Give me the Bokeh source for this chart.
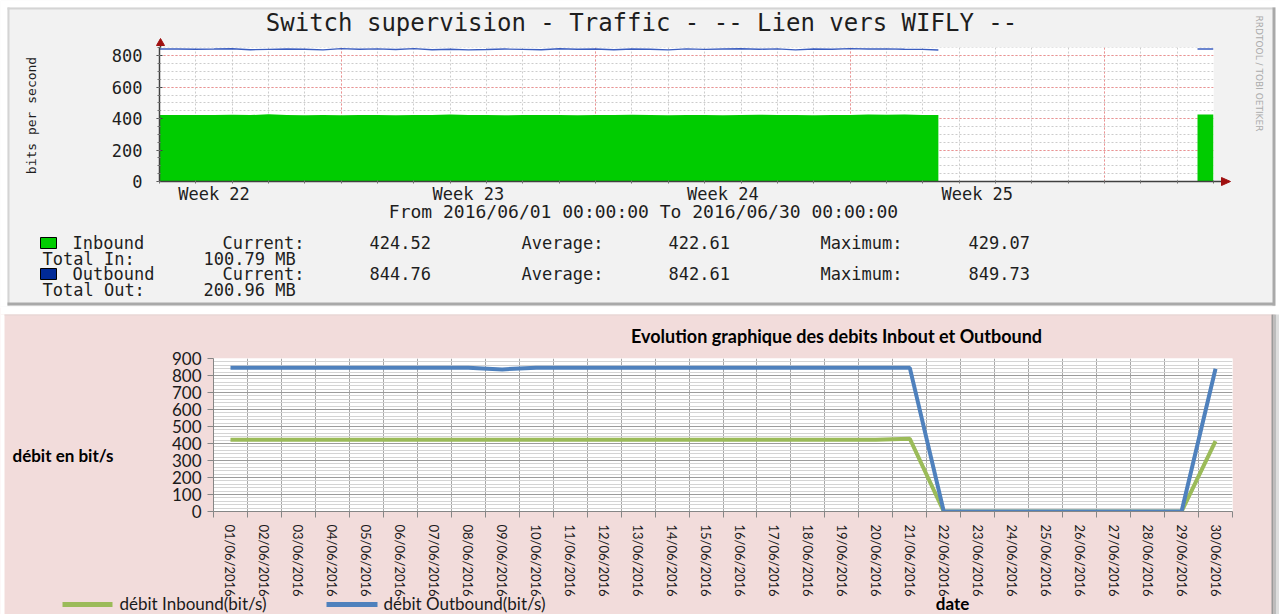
from math import pi
from bokeh.plotting import figure
from bokeh.models import FixedTicker, Range1d
from bokeh.core.properties import value
from bokeh.embed import file_html
from bokeh.resources import INLINE

# ---------------- data : top (RRDtool) chart, x in days since 2016/06/01
rrd_days_a = [0.0, 0.5, 1.0, 1.5, 2.0, 2.5, 3.0, 3.5, 4.0, 4.5,
              5.0, 5.5, 6.0, 6.5, 7.0, 7.5, 8.0, 8.5, 9.0, 9.5,
              10.0, 10.5, 11.0, 11.5, 12.0, 12.5, 13.0, 13.5, 14.0, 14.5,
              15.0, 15.5, 16.0, 16.5, 17.0, 17.5, 18.0, 18.5, 19.0, 19.5,
              20.0, 20.5, 21.0, 21.43]
rrd_in_a = [424, 424, 423, 424, 425, 423, 428, 424, 422, 423,
            422, 424, 423, 422, 424, 423, 426, 424, 423, 422,
            423, 424, 423, 422, 424, 423, 425, 423, 422, 424,
            423, 422, 424, 425, 423, 424, 422, 423, 424, 426,
            425, 427, 424, 423]
rrd_out_a = [843, 843, 842, 843, 845, 839, 841, 843, 842, 838,
             846, 842, 844, 840, 846, 839, 842, 838, 840, 843,
             841, 839, 845, 842, 843, 839, 843, 842, 838, 844,
             841, 843, 845, 842, 844, 838, 843, 842, 846, 843,
             844, 842, 841, 837]
rrd_days_b = [28.56, 29.0]
rrd_in_b = [426, 426]
rrd_out_b = [843, 843]

week_ticks = [1.5, 8.5, 15.5, 22.5]
week_labels = ["Week 22", "Week 23", "Week 24", "Week 25"]
monday_days = [5, 12, 19, 26]
rrd_y_ticks = [0, 200, 400, 600, 800]

stats_in = ["424.52", "422.61", "429.07"]
stats_out = ["844.76", "842.61", "849.73"]
total_in = "100.79 MB"
total_out = "200.96 MB"

# ---------------- data : bottom (Excel) chart
dates = ["01/06/2016", "02/06/2016", "03/06/2016", "04/06/2016", "05/06/2016",
         "06/06/2016", "07/06/2016", "08/06/2016", "09/06/2016", "10/06/2016",
         "11/06/2016", "12/06/2016", "13/06/2016", "14/06/2016", "15/06/2016",
         "16/06/2016", "17/06/2016", "18/06/2016", "19/06/2016", "20/06/2016",
         "21/06/2016", "22/06/2016", "23/06/2016", "24/06/2016", "25/06/2016",
         "26/06/2016", "27/06/2016", "28/06/2016", "29/06/2016", "30/06/2016"]
inbound = [422, 422, 422, 422, 422, 422, 422, 422, 422, 422,
           422, 422, 422, 422, 422, 422, 422, 422, 422, 422,
           428, 0, 0, 0, 0, 0, 0, 0, 0, 414]
outbound = [845, 845, 845, 845, 845, 845, 845, 845, 836, 845,
            845, 845, 845, 845, 845, 845, 845, 845, 845, 845,
            845, 0, 0, 0, 0, 0, 0, 0, 0, 840]
excel_y_ticks = [0, 100, 200, 300, 400, 500, 600, 700, 800, 900]

W = 1275
MONO = "DejaVu Sans Mono"
SANS = "Lato"
RRD_GREEN = "#00cc00"
RRD_BLUE = "#3a5cbf"
XL_GREEN = "#9bbb59"
XL_BLUE = "#4f81bd"

# =============== TOP FIGURE (RRDtool graph) ===============
H1 = 307
p1 = figure(width=W, height=H1, x_range=Range1d(0, 29), y_range=Range1d(0, 853),
            output_backend="svg", toolbar_location=None,
            min_border_left=159, min_border_right=W - 1213,
            min_border_top=47, min_border_bottom=H1 - 181)
p1.border_fill_color = "#f2f2f2"
p1.background_fill_color = "white"
p1.outline_line_color = None

p1.yaxis.ticker = FixedTicker(ticks=rrd_y_ticks, minor_ticks=list(range(0, 851, 50)))
p1.xaxis.ticker = FixedTicker(ticks=week_ticks, minor_ticks=list(range(0, 30)))
p1.xaxis.major_label_overrides = {t: l for t, l in zip(week_ticks, week_labels)}
for ax in (p1.xaxis, p1.yaxis):
    ax.axis_line_color = "#404040"
    ax.axis_line_width = 1.5
    ax.major_label_text_font = MONO
    ax.major_label_text_font_size = "17px"
    ax.major_label_text_color = "#1e1e1e"
    ax.minor_tick_line_color = "#707070"
    ax.minor_tick_in = 1
    ax.minor_tick_out = 2
p1.yaxis.major_tick_line_color = "#404040"
p1.yaxis.major_tick_in = 3
p1.yaxis.major_tick_out = 3
p1.yaxis.major_label_standoff = 14
p1.xaxis.major_tick_line_color = None
p1.xaxis.major_tick_out = 0
p1.xaxis.major_tick_in = 0
p1.xaxis.major_label_standoff = 0

p1.xgrid.ticker = FixedTicker(ticks=monday_days, minor_ticks=list(range(1, 29)))
p1.xgrid.grid_line_color = "#f09090"
p1.xgrid.grid_line_dash = "2 2"
p1.xgrid.minor_grid_line_color = "#cccccc"
p1.xgrid.minor_grid_line_dash = "2 2"
p1.ygrid.grid_line_color = "#f09090"
p1.ygrid.grid_line_dash = "2 2"
p1.ygrid.minor_grid_line_color = "#cccccc"
p1.ygrid.minor_grid_line_dash = "2 2"

p1.varea(x=rrd_days_a, y1=0, y2=rrd_in_a, fill_color=RRD_GREEN)
p1.varea(x=rrd_days_b, y1=0, y2=rrd_in_b, fill_color=RRD_GREEN)
p1.line(rrd_days_a, rrd_out_a, line_color=RRD_BLUE, line_width=1.4)
p1.line(rrd_days_b, rrd_out_b, line_color=RRD_BLUE, line_width=1.4)

# =============== BOTTOM FIGURE (Excel-style chart) ===============
T2 = 307
H2 = 614 - T2
xs = [i + 1 for i in range(len(dates))]
bounds = [i + 0.5 for i in range(len(dates) + 1)]
p2 = figure(width=W, height=H2, x_range=Range1d(0.5, len(dates) + 0.5),
            y_range=Range1d(0, 900), output_backend="svg", toolbar_location=None,
            min_border_left=213, min_border_right=W - 1232,
            min_border_top=358 - T2, min_border_bottom=H2 - (511 - T2))
p2.border_fill_color = "#f2dcdb"
p2.background_fill_color = "white"
p2.outline_line_color = None

p2.yaxis.ticker = FixedTicker(ticks=excel_y_ticks)
p2.ygrid.ticker = FixedTicker(ticks=excel_y_ticks, minor_ticks=list(range(0, 901, 20)))
p2.ygrid.grid_line_color = "#9c9c9c"
p2.ygrid.minor_grid_line_color = "#d4d4d4"
p2.xaxis.ticker = FixedTicker(ticks=xs, minor_ticks=bounds)
p2.xaxis.major_label_overrides = {x: d for x, d in zip(xs, dates)}
p2.xaxis.major_label_orientation = "vertical"
p2.xgrid.ticker = FixedTicker(ticks=bounds)
p2.xgrid.grid_line_color = "#a8a8a8"

for ax in (p2.xaxis, p2.yaxis):
    ax.axis_line_color = "#868686"
    ax.major_label_text_font = SANS
    ax.major_label_text_color = "#1a1a1a"
p2.yaxis.major_label_text_font_size = "17px"
p2.yaxis.major_tick_line_color = "#868686"
p2.yaxis.major_tick_out = 6
p2.yaxis.major_tick_in = 0
p2.yaxis.minor_tick_line_color = None
p2.yaxis.major_label_standoff = 6
p2.xaxis.major_label_text_font_size = "13px"
p2.xaxis.major_tick_line_color = None
p2.xaxis.major_tick_out = 0
p2.xaxis.major_tick_in = 0
p2.xaxis.minor_tick_line_color = "#868686"
p2.xaxis.minor_tick_out = 6
p2.xaxis.minor_tick_in = 0
p2.xaxis.major_label_standoff = 7

p2.line(xs, inbound, line_color=XL_GREEN, line_width=4)
p2.line(xs, outbound, line_color=XL_BLUE, line_width=4)

# =============== OVERLAY: page decorations, titles and legends ===============
ov = figure(width=1279, height=614, x_range=Range1d(0, 1279), y_range=Range1d(614, 0),
            output_backend="svg", toolbar_location=None,
            x_axis_type=None, y_axis_type=None, min_border=0,
            min_border_left=0, min_border_right=0, min_border_top=0, min_border_bottom=0)
ov.background_fill_alpha = 0
ov.border_fill_alpha = 0
ov.outline_line_color = None
ov.styles = {"position": "absolute", "left": "0px", "top": "0px", "z-index": "10",
             "pointer-events": "none"}


def rect(l, r, t, b, color, line=None):
    ov.quad(left=[l], right=[r], top=[t], bottom=[b], fill_color=color,
            line_color=line, line_width=1)


def txt(t, x, y, size, font=MONO, style="normal", color="#1e1e1e",
        align="left", angle=0.0):
    ov.text(x=[x], y=[y], text=[t], text_font=value(font), text_font_size=f"{size}px",
            text_font_style=style, text_color=color, text_align=align,
            text_baseline="middle", angle=angle)


# page margins / panel frames
rect(0, 7, 0, 306, "white")
rect(0, 1279, 0, 7, "white")
rect(0, 1279, 306, 314, "white")
rect(0, 4, 314, 614, "white")
rect(7, 1276, 7, 9, "#d4d4d4")
rect(7, 9, 7, 305, "#d4d4d4")
rect(7, 1276, 302, 305, "#a9a9a9")
rect(1272, 1276, 7, 305, "#a9a9a9")
rect(1275, 1279, 0, 314, "white")
rect(4, 1271, 314, 315, "#e4d4d3")
rect(1271, 1273, 314, 614, "#9a9a9a")
rect(1273, 1276, 314, 614, "#bcbcbc")
rect(1276, 1279, 314, 614, "#dedede")

# RRD axis arrows
ov.segment(x0=[160, 1213], y0=[47, 181], x1=[160, 1222], y1=[40, 181],
           line_color="#404040", line_width=1.5)
ov.patches(xs=[[156, 164, 160], [1221, 1221, 1230]], ys=[[45, 45, 38], [177, 185, 181]],
           fill_color="#a01010", line_color="#a01010")

# RRD texts
txt("Switch supervision - Traffic - -- Lien vers WIFLY --", 641, 22, 24, align="center")
txt("bits per second", 31, 115, 13, align="center", angle=pi / 2)
txt("RRDTOOL / TOBI OETIKER", 1258, 73, 9, font="DejaVu Sans", color="#ababab",
    align="center", angle=-pi / 2)
txt("From 2016/06/01 00:00:00 To 2016/06/30 00:00:00", 643, 211, 18, align="center")

rect(40, 56, 237, 248, RRD_GREEN, line="#000000")
rect(40, 56, 268, 279, "#002a97", line="#000000")
for row_y, name, stats in ((242, "Inbound", stats_in), (273, "Outbound", stats_out)):
    txt(name, 72, row_y, 17)
    txt("Current:", 222, row_y, 17)
    txt(stats[0], 369, row_y, 17)
    txt("Average:", 521, row_y, 17)
    txt(stats[1], 668, row_y, 17)
    txt("Maximum:", 820, row_y, 17)
    txt(stats[2], 968, row_y, 17)
txt("Total In:", 42, 258, 17)
txt(total_in, 203, 258, 17)
txt("Total Out:", 42, 289, 17)
txt(total_out, 203, 289, 17)

# Excel texts
txt("Evolution graphique des debits Inbout et Outbound", 836, 335, 18,
    font=SANS, style="bold", color="#000000", align="center")
txt("débit en bit/s", 12, 455, 17, font=SANS, style="bold", color="#000000")
txt("date", 952, 603, 17, font=SANS, style="bold", color="#000000", align="center")
ov.segment(x0=[62, 326], y0=[604, 604], x1=[112, 377], y1=[604, 604],
           line_color=[XL_GREEN, XL_BLUE], line_width=5)
txt("débit Inbound(bit/s)", 119, 603, 17, font=SANS, color="#1a1a1a")
txt("débit Outbound(bit/s)", 383, 603, 17, font=SANS, color="#1a1a1a")

open("out.html", "w").write(file_html([p1, p2, ov], INLINE))
